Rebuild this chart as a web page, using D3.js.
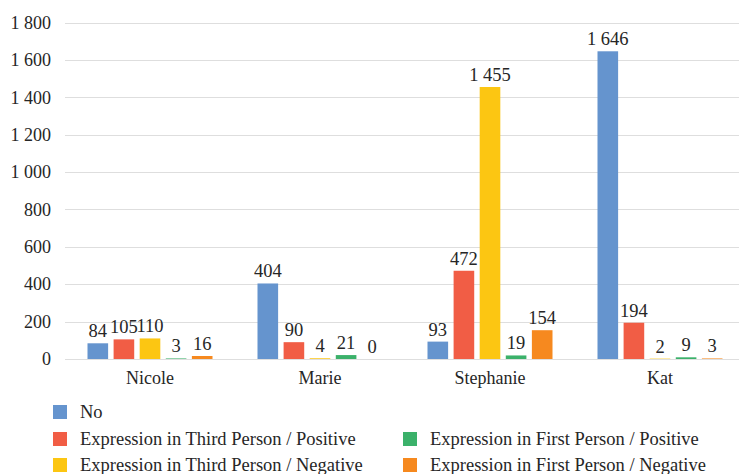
<!DOCTYPE html>
<html>
<head>
<meta charset="utf-8">
<script src="https://cdn.jsdelivr.net/npm/d3@7"></script>
<style>
  html, body { margin: 0; padding: 0; background: #fff; }
  svg { display: block; }
</style>
</head>
<body>
<svg id="chart" width="739" height="474" font-family="Liberation Serif, Times New Roman, serif"></svg>
<script>
// Categories (people) and the five expression series
const categories = ["Nicole", "Marie", "Stephanie", "Kat"];
const seriesNames = [
  "No",
  "Expression in Third Person / Positive",
  "Expression in Third Person / Negative",
  "Expression in First Person / Positive",
  "Expression in First Person / Negative"
];
const seriesNo          = [84, 404, 93, 1646];
const seriesThirdPos    = [105, 90, 472, 194];
const seriesThirdNeg    = [110, 4, 1455, 2];
const seriesFirstPos    = [3, 21, 19, 9];
const seriesFirstNeg    = [16, 0, 154, 3];
const yTicks = [0, 200, 400, 600, 800, 1000, 1200, 1400, 1600, 1800];
const colors = ["#6594ce", "#f15d45", "#fcc612", "#3bb16a", "#f6891f"];

const FONT = "Liberation Serif";
const INK = "#262626";

const seriesValues = [seriesNo, seriesThirdPos, seriesThirdNeg, seriesFirstPos, seriesFirstNeg];
const rows = categories.map((c, i) => ({
  category: c,
  values: seriesNames.map((s, k) => ({ key: s, k, value: seriesValues[k][i] }))
}));

const svg = d3.select("#chart");
const plotLeft = 65, plotRight = 745, plotTop = 22.5, plotBottom = 359;

const fmt = v => d3.format(",")(v).replace(/,/g, " ");

const x0 = d3.scaleBand().domain(categories).range([plotLeft, plotRight]).paddingInner(0).paddingOuter(0);
const x1 = d3.scaleBand().domain(d3.range(seriesNames.length))
  .range([22.5, x0.bandwidth() - 22.5]).paddingInner(0.21).paddingOuter(0);
const y = d3.scaleLinear().domain([0, 1800]).range([plotBottom, plotTop]);

// Gridlines
svg.append("g").selectAll("line").data(yTicks).join("line")
  .attr("x1", plotLeft).attr("x2", 739)
  .attr("y1", d => Math.round(y(d)) + 0.5).attr("y2", d => Math.round(y(d)) + 0.5)
  .attr("stroke", "#dedede").attr("stroke-width", 1);

// Y axis labels
const yAxis = d3.axisLeft(y).tickValues(yTicks).tickFormat(fmt).tickSize(0).tickPadding(0);
const yg = svg.append("g").attr("transform", `translate(${plotLeft - 14},0)`).call(yAxis)
  .attr("font-family", FONT).attr("font-size", 18);
yg.select(".domain").remove();
yg.selectAll("text").attr("fill", INK).attr("font-family", FONT);

// X axis labels
const xAxis = d3.axisBottom(x0).tickSize(0).tickPadding(0);
const xg = svg.append("g").attr("transform", `translate(0,${plotBottom + 12})`).call(xAxis)
  .attr("font-family", FONT).attr("font-size", 18);
xg.select(".domain").remove();
xg.selectAll("text").attr("fill", INK).attr("font-family", FONT);

// Bars
const groups = svg.append("g").selectAll("g").data(rows).join("g")
  .attr("transform", d => `translate(${x0(d.category)},0)`);

groups.selectAll("rect").data(d => d.values).join("rect")
  .attr("x", d => x1(d.k))
  .attr("width", x1.bandwidth())
  .attr("y", d => y(d.value))
  .attr("height", d => y(0) - y(d.value))
  .attr("fill", d => colors[d.k]);

// Value labels
groups.selectAll("text.val").data(d => d.values).join("text")
  .attr("class", "val")
  .attr("x", d => x1(d.k) + x1.bandwidth() / 2)
  .attr("y", d => y(d.value) - 6)
  .attr("text-anchor", "middle")
  .attr("font-family", FONT)
  .attr("font-size", 18.5)
  .attr("fill", INK)
  .text(d => fmt(d.value));

// Legend
const legendPos = [
  { k: 0, x: 53, y: 412 },
  { k: 1, x: 53, y: 439 },
  { k: 3, x: 403, y: 439 },
  { k: 2, x: 53, y: 465 },
  { k: 4, x: 403, y: 465 }
];
const lg = svg.append("g").selectAll("g").data(legendPos).join("g")
  .attr("transform", d => `translate(${d.x},${d.y})`);
lg.append("rect").attr("x", 0).attr("y", -7).attr("width", 14).attr("height", 14)
  .attr("fill", d => colors[d.k]);
lg.append("text").attr("x", 27).attr("y", 6)
  .attr("font-family", FONT).attr("font-size", 18.5).attr("fill", INK)
  .text(d => seriesNames[d.k]);
</script>
</body>
</html>
